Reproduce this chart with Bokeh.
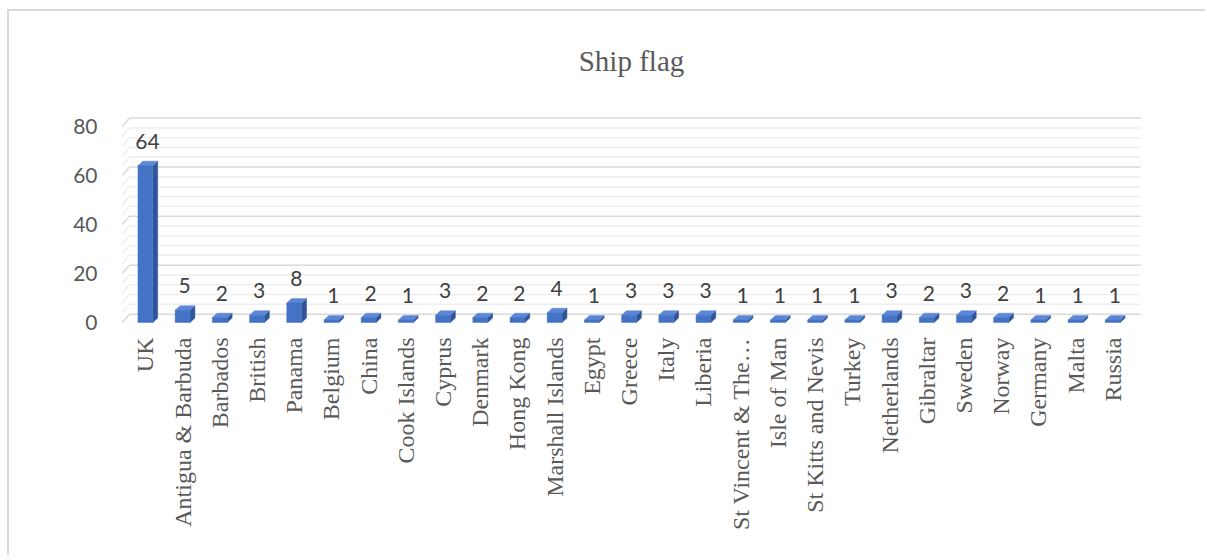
import math
from bokeh.plotting import figure
from bokeh.models import FixedTicker, ColumnDataSource
from bokeh.core.properties import value
from bokeh.embed import file_html
from bokeh.resources import INLINE

# ---------------- data ----------------
chart_title = "Ship flag"
countries = ["UK", "Antigua & Barbuda", "Barbados", "British", "Panama", "Belgium",
             "China", "Cook Islands", "Cyprus", "Denmark", "Hong Kong",
             "Marshall Islands", "Egypt", "Greece", "Italy", "Liberia",
             "St Vincent & The\u2026", "Isle of Man", "St Kitts and Nevis", "Turkey",
             "Netherlands", "Gibraltar", "Sweden", "Norway", "Germany", "Malta", "Russia"]
counts = [64, 5, 2, 3, 8, 1, 2, 1, 3, 2, 2, 4, 1, 3, 3, 3, 1, 1, 1, 1, 3, 2, 3, 2, 1, 1, 1]
y_ticks = [0, 20, 40, 60, 80]
minor_step = 4

# ---------------- styling constants ----------------
TEXT = "#595959"
FRONT = "#4472C4"
SIDE = "#2F5597"
TOP = "#5B87D6"
GRID_MAJOR = "#d9d9d9"
GRID_MINOR = "#eeeeee"

DX, DY = 0.19, 3.4        # back-wall offset (x in category units, y in value units)
BW = 0.40                 # bar front width
BD, BDY = 0.13, 1.8       # bar depth offsets
X0, X1 = -0.62, 26.56     # floor extent (front)

xs = list(range(len(countries)))

p = figure(width=1198, height=546, output_backend="svg", toolbar_location=None,
           x_range=(-0.75, 26.88), y_range=(-3.27, 86.5),
           min_border_left=108, min_border_right=62, min_border_top=99,
           min_border_bottom=227)
p.margin = (9, 0, 0, 7)
p.styles = {"border-top": "2px solid #d9d9d9", "border-left": "2px solid #d9d9d9"}
p.outline_line_color = None
p.background_fill_color = "white"
p.border_fill_color = "white"
p.xgrid.visible = False
p.ygrid.visible = False

p.title.text = chart_title
p.title.text_font = "Liberation Serif"
p.title.text_font_size = "29px"
p.title.text_font_style = "normal"
p.title.text_color = TEXT
p.title.align = "center"
p.title.vertical_align = "top"
p.title.standoff = 63

# ---------------- gridlines on back wall + side wall ----------------
top_tick = max(y_ticks)
all_lines = [v for v in range(0, top_tick + 1, minor_step)]
minor = [v for v in all_lines if v not in y_ticks]
for vals, col in ((minor, GRID_MINOR), (y_ticks, GRID_MAJOR)):
    src = ColumnDataSource(dict(
        x0=[X0 + DX] * len(vals), x1=[X1 + DX] * len(vals),
        y0=[v + DY for v in vals], y1=[v + DY for v in vals],
        sx0=[X0] * len(vals), sy0=list(vals)))
    p.segment(x0="x0", y0="y0", x1="x1", y1="y1", source=src, line_color=col, line_width=1.5)
    p.segment(x0="sx0", y0="sy0", x1="x0", y1="y0", source=src, line_color=col, line_width=1.5)

# ---------------- 3D bars ----------------
side_x, side_y, top_x, top_y = [], [], [], []
for x, v in zip(xs, counts):
    r = x + BW / 2
    l = x - BW / 2
    side_x.append([r, r + BD, r + BD, r])
    side_y.append([0, BDY, v + BDY, v])
    top_x.append([l, r, r + BD, l + BD])
    top_y.append([v, v, v + BDY, v + BDY])

p.patches(side_x, side_y, fill_color=SIDE, line_color=SIDE, line_width=0.5)
p.patches(top_x, top_y, fill_color=TOP, line_color=TOP, line_width=0.5)
p.vbar(x=xs, top=counts, bottom=0, width=BW, fill_color=FRONT, line_color=FRONT, line_width=0.5)

# ---------------- data labels ----------------
lab = ColumnDataSource(dict(x=xs, y=counts, t=[str(c) for c in counts]))
p.text(x="x", y="y", text="t", source=lab, text_align="center", text_baseline="bottom",
       y_offset=-17, x_offset=2, text_font=value("Lato"), text_font_size="21px",
       text_color="#404040")

# ---------------- axes ----------------
p.yaxis.ticker = FixedTicker(ticks=y_ticks)
p.yaxis.axis_line_color = None
p.yaxis.major_tick_line_color = None
p.yaxis.minor_tick_line_color = None
p.yaxis.major_label_text_font = "Lato"
p.yaxis.major_label_text_font_size = "21px"
p.yaxis.major_label_text_color = TEXT
p.yaxis.major_label_standoff = 14

p.xaxis.ticker = FixedTicker(ticks=xs)
p.xaxis.major_label_overrides = {i: c for i, c in zip(xs, countries)}
p.xaxis.major_label_orientation = math.pi / 2
p.xaxis.axis_line_color = None
p.xaxis.major_tick_line_color = None
p.xaxis.minor_tick_line_color = None
p.xaxis.major_label_text_font = "Liberation Serif"
p.xaxis.major_label_text_font_size = "24px"
p.xaxis.major_label_text_color = TEXT
p.xaxis.major_label_standoff = 1

open("out.html", "w").write(file_html(p, INLINE))
